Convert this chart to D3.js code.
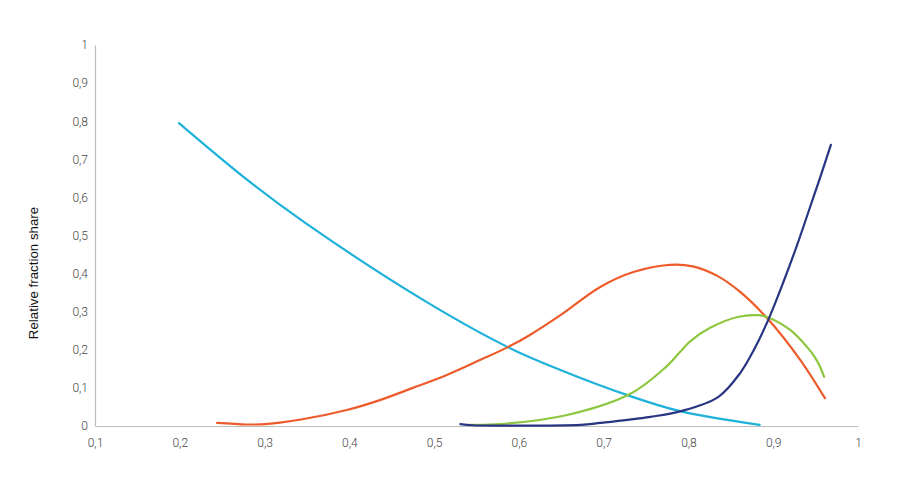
<!DOCTYPE html>
<html>
<head>
<meta charset="utf-8">
<script src="https://cdn.jsdelivr.net/npm/d3@7"></script>
<style>
html,body{margin:0;padding:0;background:#fff;}
svg{display:block;}
</style>
</head>
<body>
<svg id="chart" width="914" height="483"></svg>
<script>
const xTicks = [0.1,0.2,0.3,0.4,0.5,0.6,0.7,0.8,0.9,1];
const yTicks = [0,0.1,0.2,0.3,0.4,0.5,0.6,0.7,0.8,0.9,1];
const yTitle = "Relative fraction share";

const cyanX = [0.199,0.283,0.348,0.487,0.587,0.649,0.728,0.790,0.884];
const cyanY = [0.795,0.640,0.533,0.331,0.207,0.147,0.081,0.039,0.003];

const orangeX = [0.244,0.279,0.301,0.343,0.397,0.436,0.475,0.515,0.554,0.587,0.613,0.649,0.696,0.735,0.778,0.805,0.834,0.861,0.894,0.932,0.961];
const orangeY = [0.008,0.004,0.005,0.017,0.042,0.068,0.100,0.134,0.173,0.207,0.239,0.291,0.365,0.404,0.423,0.419,0.394,0.352,0.280,0.173,0.073];

const greenX = [0.542,0.578,0.657,0.731,0.772,0.790,0.802,0.825,0.858,0.881,0.894,0.920,0.940,0.949,0.955,0.960];
const greenY = [0.003,0.005,0.029,0.084,0.152,0.194,0.222,0.257,0.286,0.291,0.285,0.252,0.207,0.181,0.157,0.129];

const navyX = [0.531,0.545,0.578,0.673,0.696,0.755,0.791,0.835,0.861,0.877,0.894,0.912,0.928,0.942,0.955,0.968];
const navyY = [0.005,0.002,0.001,0.003,0.008,0.024,0.039,0.076,0.139,0.199,0.278,0.378,0.474,0.565,0.650,0.738];

const seriesColors = ["#1eb1da","#ee5b2b","#8dc63f","#283583"];

const svg = d3.select("#chart");
const x = d3.scaleLinear().domain([0.1,1]).range([95,858]);
const y = d3.scaleLinear().domain([0,1]).range([426,45]);
const fmt = d => String(d).replace(".", ",");

const xAxis = d3.axisBottom(x).tickValues(xTicks).tickFormat(fmt).tickSize(0).tickPadding(12);
const gx = svg.append("g").attr("transform","translate(0,426)").call(xAxis);
gx.select(".domain").attr("stroke","#bdbdbd").attr("stroke-width",1.2);
gx.selectAll("text").attr("font-family","Roboto, 'Liberation Sans', sans-serif").attr("font-size",12).attr("fill","#444").attr("font-weight",300);

const yAxis = d3.axisLeft(y).tickValues(yTicks).tickFormat(fmt).tickSize(0).tickPadding(7);
const gy = svg.append("g").attr("transform","translate(95,0)").call(yAxis);
gy.select(".domain").attr("stroke","#bdbdbd").attr("stroke-width",1.2);
gy.selectAll("text").attr("font-family","Roboto, 'Liberation Sans', sans-serif").attr("font-size",12).attr("fill","#444").attr("font-weight",300);

svg.append("text")
  .attr("transform","translate(38,273) rotate(-90)")
  .attr("text-anchor","middle")
  .attr("font-family","'Liberation Sans', Arial, sans-serif")
  .attr("font-size",13.3)
  .attr("fill","#111")
  .text(yTitle);

const line = d3.line().x(d=>x(d[0])).y(d=>y(d[1])).curve(d3.curveCatmullRom.alpha(0.5));
const series = [
  [cyanX,cyanY],[orangeX,orangeY],[greenX,greenY],[navyX,navyY]
];
series.forEach((s,i)=>{
  const pts = s[0].map((v,j)=>[v,s[1][j]]);
  svg.append("path").datum(pts)
    .attr("d",line)
    .attr("fill","none")
    .attr("stroke",seriesColors[i])
    .attr("stroke-width",2.2)
    .attr("stroke-linecap","round");
});
</script>
</body>
</html>
